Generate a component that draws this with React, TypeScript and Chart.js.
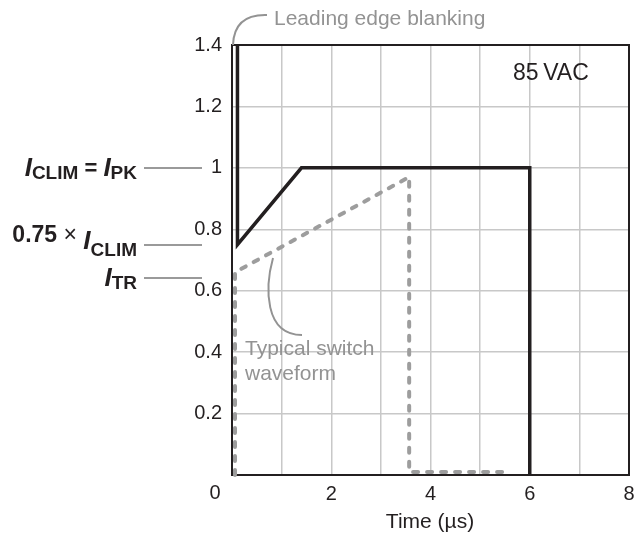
import { useEffect, useRef } from 'react';
import { Chart, registerables } from 'chart.js';

Chart.register(...registerables);

// Current-limit waveform (solid): time in µs, current normalised to I_CLIM
const limitTime = [0.11, 0.11, 1.4, 6, 6];
const limitCurrent = [1.4, 0.75, 1.0, 1.0, 0];

// Typical switch current waveform (dashed)
const switchTime = [0.06, 0.06, 3.57, 3.57, 5.45];
const switchCurrent = [0, 0.66, 0.97, 0.01, 0.01];

// Reference current levels marked on the left
const levelClim = 1;
const levelThreeQuarter = 0.75;
const levelTr = 0.64;

const xTickLabels = ['2', '4', '6', '8'];
const yTickLabels = ['0.2', '0.4', '0.6', '0.8', '1', '1.2', '1.4'];

const FONT = "'Liberation Sans', Arial, Helvetica, sans-serif";
const DARK = '#231f20';
const GREY = '#939393';

type Part = { text: string; font: string; dy: number };

function drawParts(ctx: CanvasRenderingContext2D, parts: Part[], rightX: number, y: number) {
  let total = 0;
  const widths = parts.map((p) => {
    ctx.font = p.font;
    const w = ctx.measureText(p.text).width;
    total += w;
    return w;
  });
  let x = rightX - total;
  parts.forEach((p, i) => {
    ctx.font = p.font;
    ctx.fillText(p.text, x, y + p.dy);
    x += widths[i];
  });
}

const annotations = {
  id: 'annotations',
  beforeDatasetsDraw(chart: Chart) {
    const { ctx, chartArea: a } = chart;
    ctx.save();
    ctx.strokeStyle = DARK;
    ctx.lineWidth = 2;
    ctx.strokeRect(a.left, a.top, a.right - a.left, a.bottom - a.top);
    ctx.restore();
  },
  afterDraw(chart: Chart) {
    const { ctx } = chart;
    const xs = chart.scales.x;
    const ys = chart.scales.y;
    ctx.save();

    // leader lines for the reference levels
    ctx.strokeStyle = '#9a9a9a';
    ctx.lineWidth = 2;
    [levelClim, levelThreeQuarter, levelTr].forEach((v) => {
      const y = Math.round(ys.getPixelForValue(v));
      ctx.beginPath();
      ctx.moveTo(144, y);
      ctx.lineTo(202, y);
      ctx.stroke();
    });

    ctx.fillStyle = DARK;
    ctx.textBaseline = 'alphabetic';
    ctx.textAlign = 'left';
    const bigI = `italic bold 26px ${FONT}`;
    const sub = `bold 19px ${FONT}`;
    const main = `bold 22px ${FONT}`;
    drawParts(
      ctx,
      [
        { text: 'I', font: bigI, dy: 8 },
        { text: 'CLIM', font: sub, dy: 11 },
        { text: ' = ', font: main, dy: 7 },
        { text: 'I', font: bigI, dy: 8 },
        { text: 'PK', font: sub, dy: 11 },
      ],
      137,
      ys.getPixelForValue(levelClim)
    );
    drawParts(
      ctx,
      [
        { text: '0.75 ', font: `bold 23px ${FONT}`, dy: -3 },
        { text: '×', font: `23px ${FONT}`, dy: -3 },
        { text: ' ', font: `23px ${FONT}`, dy: -3 },
        { text: 'I', font: bigI, dy: 4 },
        { text: 'CLIM', font: sub, dy: 11 },
      ],
      137,
      ys.getPixelForValue(levelThreeQuarter)
    );
    drawParts(
      ctx,
      [
        { text: 'I', font: bigI, dy: 8 },
        { text: 'TR', font: sub, dy: 11 },
      ],
      137,
      ys.getPixelForValue(levelTr)
    );

    // shared origin label
    ctx.font = `20px ${FONT}`;
    ctx.textAlign = 'center';
    ctx.fillText('0', 215, 499);

    // axis title
    ctx.font = `21px ${FONT}`;
    ctx.fillText('Time (µs)', 430, 528);

    // line voltage tag
    ctx.textAlign = 'left';
    ctx.font = `23px ${FONT}`;
    ctx.fillText('85\u2009VAC', 513, 80);

    // callouts
    ctx.font = `21px ${FONT}`;
    ctx.fillStyle = GREY;
    ctx.strokeStyle = GREY;
    ctx.lineWidth = 2;
    ctx.fillText('Leading edge blanking', 274, 25);
    ctx.beginPath();
    ctx.moveTo(xs.getPixelForValue(0) + 1, ys.getPixelForValue(1.4));
    ctx.quadraticCurveTo(234, 14, 267, 15);
    ctx.stroke();

    ctx.fillText('Typical switch', 245, 355);
    ctx.fillText('waveform', 245, 380);
    ctx.beginPath();
    ctx.moveTo(273, 258);
    ctx.bezierCurveTo(265, 287, 264, 335, 302, 335);
    ctx.stroke();

    ctx.restore();
  },
};

export default function App() {
  const ref = useRef<HTMLCanvasElement>(null);

  useEffect(() => {
    if (!ref.current) return;
    const chart = new Chart(ref.current, {
      type: 'line',
      data: {
        datasets: [
          {
            label: 'Typical switch waveform',
            data: switchTime.map((t, i) => ({ x: t, y: switchCurrent[i] })),
            borderColor: '#9d9d9d',
            borderWidth: 4,
            borderDash: [5, 9],
            borderCapStyle: 'round',
            borderJoinStyle: 'round',
            pointRadius: 0,
            tension: 0,
            clip: false,
          },
          {
            label: 'Current limit',
            data: limitTime.map((t, i) => ({ x: t, y: limitCurrent[i] })),
            borderColor: DARK,
            borderWidth: 3.5,
            borderJoinStyle: 'miter',
            pointRadius: 0,
            tension: 0,
            clip: false,
          },
        ],
      },
      options: {
        animation: false,
        responsive: false,
        devicePixelRatio: 1,
        layout: { padding: { top: 45, right: 7, left: 0, bottom: 0 } },
        plugins: {
          legend: { display: false },
          tooltip: { enabled: false },
        },
        scales: {
          x: {
            type: 'linear',
            min: 0,
            max: 8,
            afterFit: (s: any) => {
              s.height = 58;
              s.paddingLeft = 0;
              s.paddingRight = 0;
            },
            ticks: {
              stepSize: 1,
              padding: 7,
              color: DARK,
              font: { family: FONT, size: 20 },
              maxRotation: 0,
              autoSkip: false,
              callback: (v: any) => {
                const s = String(v);
                return xTickLabels.includes(s) ? s : '';
              },
            },
            grid: { color: '#c8c8c8', lineWidth: 1.5, drawTicks: false },
            border: { display: true, color: DARK, width: 2 },
          },
          y: {
            type: 'linear',
            min: 0,
            max: 1.4,
            afterFit: (s: any) => {
              s.width = 232;
              s.paddingTop = 0;
              s.paddingBottom = 0;
            },
            ticks: {
              stepSize: 0.2,
              padding: 10,
              color: DARK,
              font: { family: FONT, size: 20 },
              autoSkip: false,
              callback: (v: any) => {
                const s = String(Number(Number(v).toFixed(1)));
                return yTickLabels.includes(s) ? s : '';
              },
            },
            grid: { color: '#c8c8c8', lineWidth: 1.5, drawTicks: false },
            border: { display: true, color: DARK, width: 2 },
          },
        },
      },
      plugins: [annotations],
    });
    return () => chart.destroy();
  }, []);

  return (
    <div style={{ position: 'fixed', left: 0, top: 0, width: 636, height: 533, background: '#fff' }}>
      <canvas ref={ref} width={636} height={533} />
    </div>
  );
}
